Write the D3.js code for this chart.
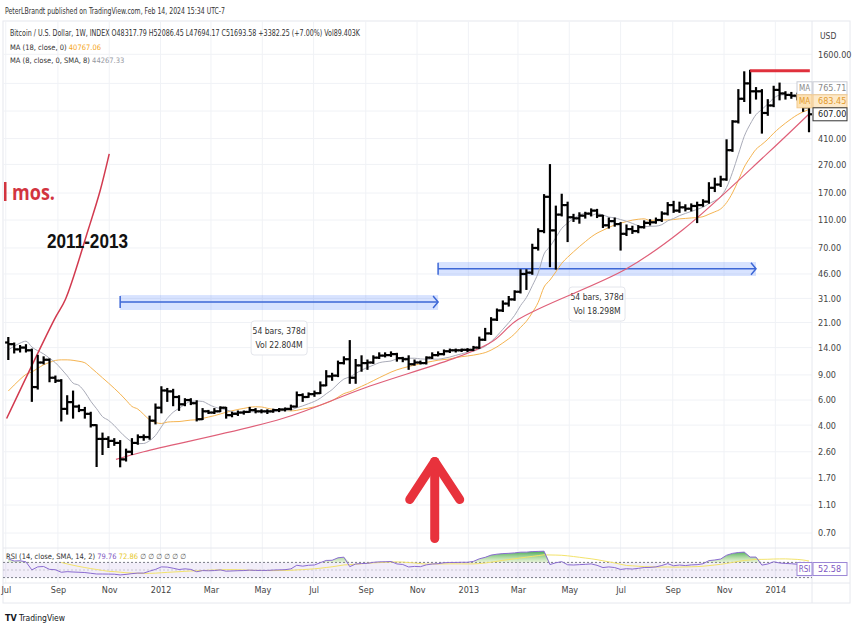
<!DOCTYPE html>
<html><head><meta charset="utf-8">
<script src="https://cdn.jsdelivr.net/npm/d3@7/dist/d3.min.js"></script>
<style>
html,body{margin:0;padding:0;background:#fff;}
svg{display:block;}
text{font-family:"DejaVu Sans Condensed","Liberation Sans",sans-serif;}
</style></head>
<body>
<svg id="c" width="856" height="632"></svg>
<script>
// ---------- DATA (weekly bars, Monday dates from 2011-07-04) ----------
const firstWeek = "2011-07-04";
const opens  = [15.2,14.8,13.6,14.0,13.4,7.4,11.0,11.5,8.6,8.2,5.2,5.8,5.4,5.1,4.8,4.0,3.2,3.2,3.1,3.0,2.3,2.6,3.0,3.3,3.3,4.3,
  5.3,7.0,6.9,6.3,5.6,6.0,5.7,4.4,5.0,4.9,5.0,5.3,4.7,4.8,4.9,4.95,5.1,5.0,5.0,5.0,5.1,5.15,5.2,5.4,6.5,6.3,6.6,6.7,7.6,8.8,8.9,10.9,11.6,8.6,10.5,10.9,11.0,11.9,12.3,12.4,12.6,11.8,11.6,10.7,11.0,10.9,11.9,12.4,12.6,13.2,13.4,13.4,13.5,
  13.5,14.0,15.9,17.6,22.0,25.5,28.5,30.5,34.5,46.0,47.0,70.0,92.0,160,93,120,140,115,113,118,122,128,118,101,108,103,88,95,92,98,105,106,110,122,140,128,135,132,138,140,148,185,195,212,340,540,780,1000,880,880,620,
  700,900,850,830,820,800,680];
const highs  = [16.4,15.0,14.4,14.6,13.6,12.3,12.0,11.6,8.8,8.3,6.4,6.9,5.5,5.3,4.9,4.0,3.5,3.3,3.2,3.1,2.7,3.2,3.4,3.4,4.6,5.6,
  7.4,7.2,7.1,6.4,6.1,6.1,5.9,5.2,5.05,5.2,5.35,5.3,4.9,5.0,5.0,5.3,5.2,5.1,5.1,5.15,5.2,5.25,5.5,6.8,6.6,6.7,6.9,8.0,9.6,9.2,11.2,12.0,15.6,11.5,12.2,11.4,12.2,12.8,12.8,13.0,12.7,11.9,12.2,11.4,11.2,12.0,12.8,13.0,13.4,13.6,13.6,13.6,13.7,
  14.2,16.5,19.0,22.6,26.0,29.6,31.8,34.9,49.0,49.0,74.0,95.0,165,268,137,166,146,120,123,124,131,130,118,113,113,105,101,99,100,108,110,113,125,145,148,146,140,142,146,152,200,215,222,400,545,900,1200,1230,930,900,765,
  950,1000,870,860,850,830,700];
const lows   = [11.6,12.9,13.1,13.1,5.9,7.2,10.8,8.1,8.0,4.3,4.8,4.5,5.0,4.5,3.9,2.06,2.5,2.8,2.9,2.05,2.25,2.5,2.95,3.15,3.2,4.1,
  4.9,5.9,5.5,5.1,5.5,5.6,4.3,4.4,4.85,4.85,5.0,4.5,4.6,4.7,4.8,4.95,4.9,4.9,4.85,4.95,5.0,5.05,5.15,5.4,5.9,6.3,6.4,6.7,7.6,8.3,8.8,10.8,7.9,7.9,9.6,9.9,10.9,11.8,12.1,12.2,11.3,11.2,9.9,10.6,10.8,10.8,11.8,12.3,12.5,13.0,13.1,13.2,13.2,
  13.4,13.9,15.8,17.4,21.8,25.2,27.5,30.2,34.0,36.0,46.0,68.0,90,52,50,118,78,108,105,114,118,115,98,97,100,68,86,89,90,97,102,105,108,120,125,125,128,128,106,138,145,175,190,210,335,530,750,620,780,450,600,
  690,770,780,790,770,640,460];
const closes = [14.8,13.6,14.0,13.4,7.4,11.0,11.5,8.6,8.2,5.2,5.8,5.4,5.1,4.8,4.0,3.2,3.2,3.1,3.0,2.3,2.6,3.0,3.3,3.3,4.3,5.3,
  7.0,6.9,6.3,5.6,6.0,5.7,4.4,5.0,4.9,5.0,5.3,4.7,4.8,4.9,4.95,5.1,5.0,5.0,5.0,5.1,5.15,5.2,5.4,6.5,6.3,6.6,6.7,7.6,8.8,8.9,10.9,11.6,8.6,10.5,10.9,11.0,11.9,12.3,12.4,12.6,11.8,11.6,10.7,11.0,10.9,11.9,12.4,12.6,13.2,13.4,13.4,13.5,13.5,
  14.0,15.9,17.6,22.0,25.5,28.5,30.5,34.5,46.0,47.0,70.0,92.0,160,93,120,140,115,113,118,122,128,118,101,108,103,88,95,92,98,105,106,110,122,140,128,135,132,138,140,148,185,195,212,340,540,780,1000,880,880,620,700,
  900,850,830,820,800,680,607];
// closes of the 18 weeks before the visible window (indicator warm-up)
const preCloses = [0.86,0.89,0.87,0.77,0.78,0.72,1.0,1.2,1.6,3.3,5.8,7.0,8.2,9.6,18.5,17.7,16.8,15.4];

const priceTicks = [1600,410,270,170,110,70,46,31,21,14,9,6,4,2.6,1.7,1.1,0.7];
const hiddenGridTicks = [1000,640];
const timeTickDates = ["2011-07-01","2011-09-01","2011-11-01","2012-01-01","2012-03-01","2012-05-01","2012-07-01","2012-09-01","2012-11-01","2013-01-01","2013-03-01","2013-05-01","2013-07-01","2013-09-01","2013-11-01","2014-01-01"];
const timeTickLabels = ["Jul","Sep","Nov","2012","Mar","May","Jul","Sep","Nov","2013","Mar","May","Jul","Sep","Nov","2014"];

// drawings (date / price anchors)
const arcLeftDates  = ["2011-07-02","2011-08-28","2011-09-10","2011-10-07","2011-10-21","2011-11-01"];
const arcLeftPrices = [4.45,22.2,30.6,94,175,320];
const arcLongDates  = ["2011-11-09","2011-12-12","2012-05-25","2012-08-28","2013-01-26","2013-03-01","2013-07-08","2013-09-13","2013-12-22","2014-02-10"];
const arcLongPrices = [2.3,2.6,4.45,7.2,15,22,50,94,320,610];
const peakLineDates = ["2013-12-02","2014-02-11"];
const peakLinePrice = 1228;
const rangeStarts = ["2011-11-14","2012-11-26"];
const rangeEnds   = ["2012-11-26","2013-12-09"];
const rangeLow    = [25.7,44.5];
const rangeHigh   = [32.7,55.8];
const rangeMid    = [29.2,50];
const rangeText1  = ["54 bars, 378d","54 bars, 378d"];
const rangeText2  = ["Vol 22.804M","Vol 18.298M"];
const arrowDate = "2012-11-22";
const arrowTipPrice = 2.37, arrowBasePrice = 0.64;

const maLabels = [{name:"MA",value:765.71},{name:"MA",value:683.45}];
const lastPrice = 607.00;
const rsiLast = 52.58;

// ---------- SETUP ----------
const svg = d3.select("#c");
const parse = d3.timeParse("%Y-%m-%d");
const w0 = parse(firstWeek);
const bars = closes.map((c,i)=>({date:d3.timeDay.offset(w0,7*i),o:opens[i],h:highs[i],l:lows[i],c:c}));

const L=3, R=812, T=21, MB=548;
const x = d3.scaleTime().domain([w0, bars[bars.length-1].date]).range([8.3, 809]);
const y = d3.scaleLog().domain([0.7,1600]).range([533,54.3]);

// indicators (computed from the closes)
const all = preCloses.concat(closes);
const off = preCloses.length;
function sma(arr,n,i){ if(i<n-1) return null; let s=0; for(let j=i-n+1;j<=i;j++){ if(arr[j]==null) return null; s+=arr[j];} return s/n; }
const ma8 = bars.map((b,k)=>({date:b.date,v:sma(all,8,k+off)}));
const ma18 = bars.map((b,k)=>({date:b.date,v:sma(all,18,k+off)}));
const rsiAll = new Array(all.length).fill(null);
{ let g=0,l=0; for(let i=1;i<=14;i++){const d=all[i]-all[i-1]; if(d>0)g+=d; else l-=d;} g/=14; l/=14;
  rsiAll[14]=100-100/(1+g/l);
  for(let i=15;i<all.length;i++){const d=all[i]-all[i-1]; g=(g*13+Math.max(d,0))/14; l=(l*13+Math.max(-d,0))/14; rsiAll[i]= l===0?100:100-100/(1+g/l);} }
const rsi = bars.map((b,k)=>({date:b.date,v:rsiAll[k+off]}));
const rsiMa = bars.map((b,k)=>({date:b.date,v:sma(rsiAll,14,k+off)}));

function txt(parent,xp,yp,s,len,size,fill){
  const t=parent.append("text").attr("x",xp).attr("y",yp).attr("font-size",size).attr("fill",fill).text(s);
  if(len) t.attr("textLength",len).attr("lengthAdjust","spacingAndGlyphs");
  return t;
}

// ---------- FRAME ----------
txt(svg,5,14,"PeterLBrandt published on TradingView.com, Feb 14, 2024 15:34 UTC-7",220,9,"#333");
svg.append("rect").attr("x",L).attr("y",T).attr("width",847).attr("height",582).attr("fill","none").attr("stroke","#e6e8ee");

const defs = svg.append("defs");
defs.append("clipPath").attr("id","mainclip").append("rect").attr("x",L).attr("y",T).attr("width",R-L).attr("height",MB-T);
defs.append("clipPath").attr("id","rsiclip").append("rect").attr("x",L).attr("y",MB).attr("width",R-L).attr("height",35);

const grid = svg.append("g");
grid.selectAll(".hg").data(priceTicks.concat(hiddenGridTicks)).join("line").attr("x1",L).attr("x2",R).attr("y1",d=>y(d)).attr("y2",d=>y(d)).attr("stroke","#f0f2f6");
const tDates = timeTickDates.map(parse);
grid.selectAll(".vg").data(tDates).join("line").attr("x1",d=>x(d)).attr("x2",d=>x(d)).attr("y1",T).attr("y2",583).attr("stroke","#f0f2f6");
svg.append("line").attr("x1",R).attr("x2",R).attr("y1",T).attr("y2",603).attr("stroke","#e6e8ee");
svg.append("line").attr("x1",L).attr("x2",850).attr("y1",MB).attr("y2",MB).attr("stroke","#e6e8ee");
svg.append("line").attr("x1",L).attr("x2",850).attr("y1",583).attr("y2",583).attr("stroke","#e6e8ee");

const yAxis = d3.axisRight(y).tickValues(priceTicks).tickFormat(d3.format(".2f")).tickSize(0).tickPadding(6);
const ya = svg.append("g").attr("transform",`translate(${R},0)`).call(yAxis);
ya.select(".domain").remove();
ya.selectAll("text").attr("font-size",9).attr("fill","#444").style("font-family",'"DejaVu Sans Condensed",sans-serif');
txt(svg,820,39,"USD",0,8.5,"#444");

const xAxis = d3.axisBottom(x).tickValues(tDates).tickFormat((d,i)=>timeTickLabels[i]).tickSize(0).tickPadding(4);
const xa = svg.append("g").attr("transform","translate(0,583)").call(xAxis);
xa.select(".domain").remove();
xa.selectAll("text").attr("font-size",9).attr("fill","#444").style("font-family",'"DejaVu Sans Condensed",sans-serif');

// ---------- MAIN PANE ----------
const main = svg.append("g").attr("clip-path","url(#mainclip)");
rangeStarts.forEach((s,i)=>{
  const x0=x(parse(s)), x1=x(parse(rangeEnds[i]));
  main.append("rect").attr("x",x0).attr("y",y(rangeHigh[i])).attr("width",x1-x0).attr("height",y(rangeLow[i])-y(rangeHigh[i]))
    .attr("fill","#2962ff").attr("fill-opacity",0.18);
  const ym=y(rangeMid[i]);
  main.append("line").attr("x1",x0).attr("x2",x1).attr("y1",ym).attr("y2",ym).attr("stroke","#3d67d6").attr("stroke-width",1.5);
  main.append("line").attr("x1",x0).attr("x2",x0).attr("y1",ym-6).attr("y2",ym+6).attr("stroke","#3d67d6").attr("stroke-width",1.5);
  main.append("path").attr("d",`M${x1-5},${ym-6}L${x1},${ym}L${x1-5},${ym+6}`).attr("fill","none").attr("stroke","#3d67d6").attr("stroke-width",1.5);
  const cx=(x0+x1)/2, ty=y(rangeLow[i])+11;
  main.append("rect").attr("x",cx-28).attr("y",ty).attr("width",56).attr("height",34).attr("rx",3).attr("fill","#fff").attr("stroke","#e4e6ec");
  main.append("text").attr("x",cx).attr("y",ty+13).attr("text-anchor","middle").attr("font-size",8.5).attr("fill","#333").text(rangeText1[i]);
  main.append("text").attr("x",cx).attr("y",ty+27).attr("text-anchor","middle").attr("font-size",8.5).attr("fill","#333").text(rangeText2[i]);
});

const line = d3.line().defined(d=>d.v!=null).x(d=>x(d.date)).y(d=>y(d.v)).curve(d3.curveMonotoneX);
main.append("path").attr("d",line(ma18)).attr("fill","none").attr("stroke","#f5b451").attr("stroke-width",1);
main.append("path").attr("d",line(ma8)).attr("fill","none").attr("stroke","#a9abb8").attr("stroke-width",1);

const arcLine = d3.line().x(d=>x(d[0])).y(d=>y(d[1])).curve(d3.curveCatmullRom);
main.append("path").attr("d",arcLine(arcLeftDates.map((d,i)=>[parse(d),arcLeftPrices[i]]))).attr("fill","none").attr("stroke","#d23a4f").attr("stroke-width",1.5);
main.append("path").attr("d",arcLine(arcLongDates.map((d,i)=>[parse(d),arcLongPrices[i]]))).attr("fill","none").attr("stroke","#df5f78").attr("stroke-width",1.2);

const bg = main.append("g").attr("stroke","#000").attr("stroke-width",2.2);
bars.forEach(b=>{
  const bx=x(b.date);
  bg.append("line").attr("x1",bx).attr("x2",bx).attr("y1",y(b.h)-0.8).attr("y2",y(b.l)+0.8);
  bg.append("line").attr("x1",bx-3.2).attr("x2",bx).attr("y1",y(b.o)).attr("y2",y(b.o));
  bg.append("line").attr("x1",bx).attr("x2",bx+3.2).attr("y1",y(b.c)).attr("y2",y(b.c));
});

main.append("line").attr("x1",x(parse(peakLineDates[0]))).attr("x2",x(parse(peakLineDates[1]))).attr("y1",y(peakLinePrice)).attr("y2",y(peakLinePrice))
  .attr("stroke","#e0303c").attr("stroke-width",3);

// annotations
svg.append("rect").attr("x",4).attr("y",182).attr("width",2.5).attr("height",19).attr("fill","#d2343f");
txt(svg,12,200,"mos.",43,21,"#d2343f").attr("font-weight","bold").style("font-family",'"Open Sans","Liberation Sans",sans-serif');
txt(svg,47,248,"2011-2013",81,21,"#111").attr("font-weight","bold").style("font-family",'"Liberation Sans",sans-serif');

{ const ax=x(parse(arrowDate)), ty=y(arrowTipPrice), by=y(arrowBasePrice);
  const g=svg.append("g").attr("stroke","#e8323c").attr("stroke-width",9).attr("stroke-linecap","round").attr("stroke-linejoin","round").attr("fill","none");
  g.append("line").attr("x1",ax).attr("x2",ax).attr("y1",ty+4).attr("y2",by);
  g.append("path").attr("d",`M${ax-25},${ty+42}L${ax},${ty+4}L${ax+25},${ty+42}`);
}

// legend
txt(svg,10,36,"Bitcoin / U.S. Dollar, 1W, INDEX  O48317.79  H52086.45  L47694.17  C51693.58  +3382.25 (+7.00%)  Vol89.403K",350,8.5,"#333");
{ const l2=svg.append("text").attr("x",10).attr("y",50).attr("font-size",7.5).attr("fill","#333");
  l2.append("tspan").text("MA (18, close, 0)  "); l2.append("tspan").attr("fill","#f5a623").text("40767.06");
  const l3=svg.append("text").attr("x",10).attr("y",63).attr("font-size",7.5).attr("fill","#333");
  l3.append("tspan").text("MA (8, close, 0, SMA, 8)  "); l3.append("tspan").attr("fill","#9598a1").text("44267.33"); }

{ const py=y(lastPrice);
  const labs=[{y:py-26,txt:d3.format(".2f")(maLabels[0].value),bg:"#fff",fg:"#888",bd:"#c9ccd4",mbg:"#fff"},
              {y:py-13,txt:d3.format(".2f")(maLabels[1].value),bg:"#fde9c9",fg:"#e39a2c",bd:"#f3c98c",mbg:"#fde2b5"}];
  labs.forEach(l=>{
    svg.append("rect").attr("x",797).attr("y",l.y-6.5).attr("width",15).attr("height",13).attr("fill",l.mbg).attr("stroke",l.bd);
    svg.append("text").attr("x",804.5).attr("y",l.y+3).attr("text-anchor","middle").attr("font-size",8).attr("fill",l.fg).text("MA");
    svg.append("rect").attr("x",813).attr("y",l.y-6.5).attr("width",34).attr("height",13).attr("fill",l.bg).attr("stroke",l.bd);
    svg.append("text").attr("x",818).attr("y",l.y+3.2).attr("font-size",9).attr("fill",l.fg).text(l.txt);
  });
  svg.append("rect").attr("x",813).attr("y",py-6.5).attr("width",34).attr("height",13).attr("fill","#fff").attr("stroke","#333");
  svg.append("text").attr("x",818).attr("y",py+3.2).attr("font-size",9).attr("fill","#222").text(d3.format(".2f")(lastPrice));
}

// ---------- RSI PANE ----------
const yr = d3.scaleLinear().domain([0,100]).range([589,551]);
const rp = svg.append("g").attr("clip-path","url(#rsiclip)");
rp.append("rect").attr("x",L).attr("y",yr(70)).attr("width",R-L).attr("height",yr(30)-yr(70)).attr("fill","#7e57c2").attr("fill-opacity",0.1);
[70,30].forEach(v=>rp.append("line").attr("x1",L).attr("x2",R).attr("y1",yr(v)).attr("y2",yr(v)).attr("stroke","#787b86").attr("stroke-dasharray","2,2"));
rp.append("line").attr("x1",L).attr("x2",R).attr("y1",yr(50)).attr("y2",yr(50)).attr("stroke","#787b86").attr("stroke-opacity",0.35).attr("stroke-dasharray","2,2");
const gr = defs.append("linearGradient").attr("id","ob").attr("x1",0).attr("x2",0).attr("y1",0).attr("y2",1);
gr.append("stop").attr("offset","0%").attr("stop-color","#2e9e44").attr("stop-opacity",0.9);
gr.append("stop").attr("offset","100%").attr("stop-color","#9ed36a").attr("stop-opacity",0.25);
const obArea = d3.area().defined(d=>d.v!=null).x(d=>x(d.date)).y0(yr(70)).y1(d=>yr(Math.max(70,d.v)));
rp.append("path").attr("d",obArea(rsi)).attr("fill","url(#ob)");
const rl = d3.line().defined(d=>d.v!=null).x(d=>x(d.date)).y(d=>yr(d.v));
rp.append("path").attr("d",rl(rsiMa)).attr("fill","none").attr("stroke","#f3e36a").attr("stroke-width",1);
rp.append("path").attr("d",rl(rsi)).attr("fill","none").attr("stroke","#8a6bd1").attr("stroke-width",1);
{ const t=svg.append("text").attr("x",6).attr("y",559).attr("font-size",7.5).attr("fill","#333");
  t.append("tspan").text("RSI (14, close, SMA, 14, 2)  ");
  t.append("tspan").attr("fill","#7e57c2").text("79.76  ");
  t.append("tspan").attr("fill","#e6c82c").text("72.86  ");
  t.append("tspan").attr("fill","#555").text("∅ ∅ ∅ ∅ ∅ ∅");
  const ry=yr(rsiLast);
  svg.append("rect").attr("x",797).attr("y",ry-6.5).attr("width",15).attr("height",13).attr("fill","#fff").attr("stroke","#9b86d6");
  svg.append("text").attr("x",804.5).attr("y",ry+3).attr("text-anchor","middle").attr("font-size",8).attr("fill","#7e57c2").text("RSI");
  svg.append("rect").attr("x",813).attr("y",ry-6.5).attr("width",34).attr("height",13).attr("fill","#fff").attr("stroke","#9b86d6");
  svg.append("text").attr("x",818).attr("y",ry+3.2).attr("font-size",9).attr("fill","#7e57c2").text(d3.format(".2f")(rsiLast));
}

txt(svg,5,621,"TV",0,9,"#131722").attr("font-weight","bold");
txt(svg,19,621,"TradingView",0,8.5,"#131722");
</script>
</body></html>
